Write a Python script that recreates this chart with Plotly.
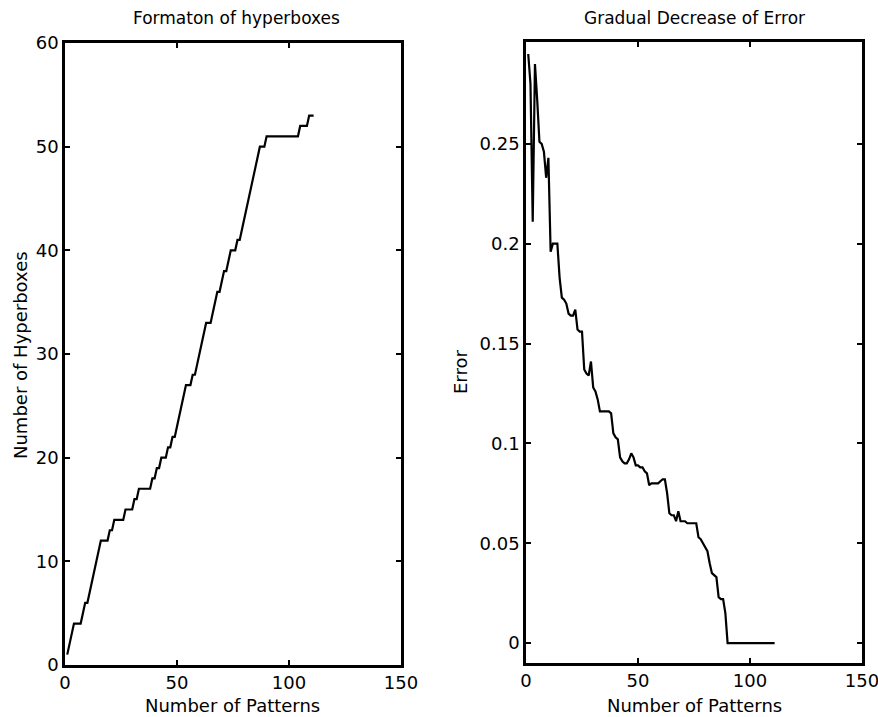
import plotly.graph_objects as go

patterns = list(range(1, 112))

hyperboxes = [
    1, 2, 3, 4, 4, 4, 4, 5, 6, 6,
    7, 8, 9, 10, 11, 12, 12, 12, 12, 13,
    13, 14, 14, 14, 14, 14, 15, 15, 15, 15,
    16, 16, 17, 17, 17, 17, 17, 17, 18, 18,
    19, 19, 20, 20, 20, 21, 21, 22, 22, 23,
    24, 25, 26, 27, 27, 27, 28, 28, 29, 30,
    31, 32, 33, 33, 33, 34, 35, 36, 36, 37,
    38, 38, 39, 40, 40, 40, 41, 41, 42, 43,
    44, 45, 46, 47, 48, 49, 50, 50, 50, 51,
    51, 51, 51, 51, 51, 51, 51, 51, 51, 51,
    51, 51, 51, 51, 52, 52, 52, 52, 53, 53,
    53,
]

error = [
    0.295, 0.280, 0.211, 0.290, 0.272, 0.251, 0.250, 0.246, 0.233, 0.243,
    0.196, 0.200, 0.200, 0.200, 0.183, 0.173, 0.172, 0.170, 0.165, 0.164,
    0.164, 0.167, 0.157, 0.156, 0.156, 0.137, 0.135, 0.134, 0.141, 0.128,
    0.126, 0.122, 0.116, 0.116, 0.116, 0.116, 0.116, 0.115, 0.105, 0.103,
    0.102, 0.093, 0.091, 0.090, 0.090, 0.092, 0.095, 0.093, 0.089, 0.089,
    0.088, 0.088, 0.086, 0.085, 0.079, 0.080, 0.080, 0.080, 0.080, 0.081,
    0.082, 0.082, 0.075, 0.065, 0.064, 0.064, 0.061, 0.066, 0.061, 0.061,
    0.061, 0.060, 0.060, 0.060, 0.060, 0.060, 0.053, 0.052, 0.050, 0.048,
    0.046, 0.040, 0.035, 0.034, 0.033, 0.023, 0.022, 0.022, 0.015, 0.000,
    0.000, 0.000, 0.000, 0.000, 0.000, 0.000, 0.000, 0.000, 0.000, 0.000,
    0.000, 0.000, 0.000, 0.000, 0.000, 0.000, 0.000, 0.000, 0.000, 0.000,
    0.000,
]

x_ticks = [0, 50, 100, 150]
y1_ticks = [0, 10, 20, 30, 40, 50, 60]
y2_ticks = [0, 0.05, 0.1, 0.15, 0.2, 0.25]
y2_labels = ["0", "0.05", "0.1", "0.15", "0.2", "0.25"]

W, H = 878, 717
ML, MR, MT, MB = 60, 10, 40, 50
PW, PH = W - ML - MR, H - MT - MB
FONT = "DejaVu Sans, Liberation Sans, Arial, sans-serif"

fig = go.Figure()
fig.add_trace(go.Scatter(x=patterns, y=hyperboxes, mode="lines",
                         line=dict(color="black", width=2.2), xaxis="x", yaxis="y",
                         showlegend=False))
fig.add_trace(go.Scatter(x=patterns, y=error, mode="lines",
                         line=dict(color="black", width=2.2), xaxis="x2", yaxis="y2",
                         showlegend=False))

def px_x(p):
    return (p - ML) / PW

def px_y(p):
    return 1 - (p - MT) / PH

axis_common = dict(showline=True, linecolor="black", linewidth=2.5, mirror="ticks",
                   ticks="inside", ticklen=5, tickwidth=2, tickcolor="black",
                   showgrid=False, zeroline=False, automargin=False,
                   ticklabeloverflow="allow",
                   tickfont=dict(family=FONT, size=18, color="black"))

fig.update_layout(
    width=W, height=H,
    margin=dict(l=ML, r=MR, t=MT, b=MB, autoexpand=False),
    paper_bgcolor="white", plot_bgcolor="white",
    font=dict(family=FONT, color="black"),
    xaxis=dict(domain=[px_x(65), px_x(401)], range=[0, 150], tickvals=x_ticks,
               anchor="y", **axis_common),
    yaxis=dict(domain=[px_y(665), px_y(43)], range=[0, 60], tickvals=y1_ticks,
               anchor="x", **axis_common),
    xaxis2=dict(domain=[px_x(526), px_x(862)], range=[0, 150], tickvals=x_ticks,
                anchor="y2", **axis_common),
    yaxis2=dict(domain=[px_y(663), px_y(42)], range=[-0.01, 0.301], tickvals=y2_ticks,
                ticktext=y2_labels, anchor="x2", **axis_common),
)

def ann(text, x, y, size, angle=0):
    fig.add_annotation(text=text, x=px_x(x), y=px_y(y), xref="paper", yref="paper",
                       showarrow=False, textangle=angle,
                       font=dict(family=FONT, size=size, color="black"),
                       xanchor="center", yanchor="middle")

ann("Formaton of hyperboxes", 236, 18, 17)
ann("Gradual Decrease of Error", 694, 18, 17)
ann("Number of Patterns", 232, 705, 18)
ann("Number of Patterns", 694, 705, 18)
ann("Number of Hyperboxes", 20, 355, 18, angle=-90)
ann("Error", 461, 372, 18, angle=-90)

fig.write_html("out.html")
